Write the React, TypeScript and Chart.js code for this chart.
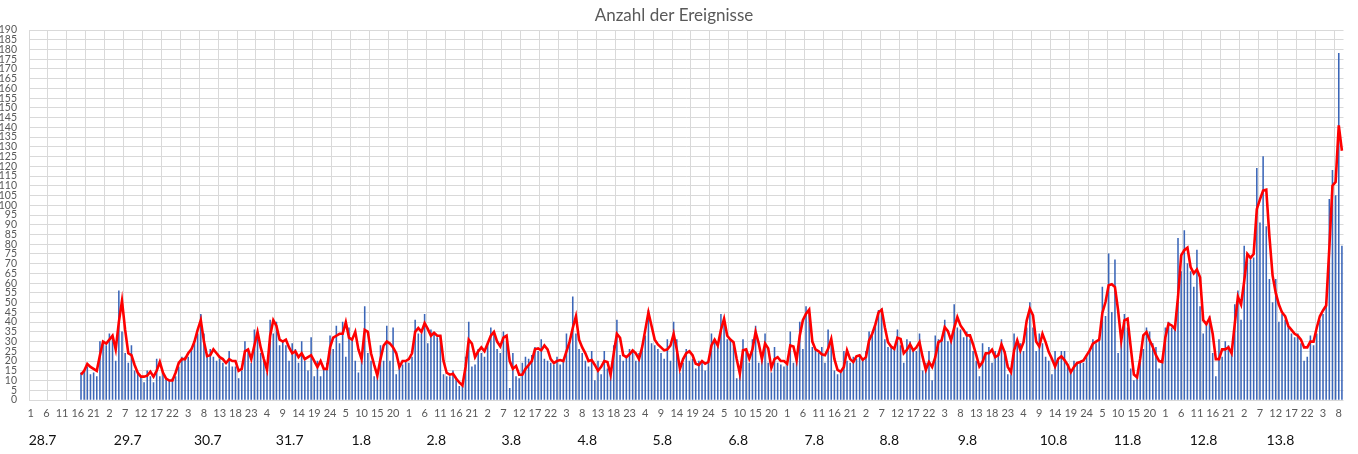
import React, { useEffect, useRef } from "react";
import { Chart, registerables } from "chart.js";

Chart.register(...registerables);

const chartTitle = "Anzahl der Ereignisse";

// day groups of the category axis (the last day, 14.8, is incomplete and not labelled)
const dayLabels = [
  "28.7", "29.7", "30.7", "31.7", "1.8", "2.8", "3.8", "4.8", "5.8",
  "6.8", "7.8", "8.8", "9.8", "10.8", "11.8", "12.8", "13.8", "14.8",
];

// hour inside each day under which the day label sits (as placed in the original)
const dayLabelAnchorHour = [
  3.8, 6.8, 8.2, 10.2, 8.9, 8.7, 8.5, 8.6, 8.4, 8.5, 8.6, 8.4, 9.2, 12.5, 12, 12.1, 12.5,
];

// number of events per hour (one row per day, hours 1..24)
const eventCounts: (number | null)[] = [
  null, null, null, null, null, null, null, null, null, null, null, null, null, null, null, null, 14, 15, 17, 13, 14, 12, 30, 29,
  28, 34, 32, 20, 56, 35, 24, 19, 28, 15, 14, 12, 9, 15, 12, 9, 21, 12, 14, 11, 10, 11, 12, 17,
  22, 22, 22, 26, 29, 34, 44, 34, 22, 26, 22, 20, 21, 19, 17, 25, 17, 17, 11, 15, 30, 26, 19, 36,
  33, 24, 20, 14, 41, 34, 40, 28, 30, 28, 20, 29, 26, 19, 30, 20, 15, 32, 12, 20, 12, 16, 19, 33,
  26, 38, 29, 40, 22, 37, 31, 20, 14, 20, 48, 24, 20, 12, 12, 28, 20, 38, 20, 37, 13, 18, 18, 20,
  19, 22, 41, 34, 34, 44, 29, 36, 34, 32, 33, 13, 12, 12, 15, 11, 7, 7, 22, 40, 17, 18, 26, 24,
  22, 29, 37, 34, 26, 24, 35, 30, 6, 24, 12, 11, 19, 22, 21, 23, 27, 25, 31, 21, 20, 19, 18, 22,
  18, 20, 34, 30, 53, 34, 26, 24, 20, 17, 25, 10, 20, 13, 25, 16, 13, 28, 41, 23, 20, 22, 26, 25,
  20, 24, 28, 33, 46, 29, 28, 26, 24, 21, 31, 20, 40, 31, 14, 19, 26, 20, 21, 16, 20, 19, 15, 20,
  34, 31, 27, 44, 39, 31, 31, 29, 11, 15, 31, 25, 19, 31, 38, 19, 23, 34, 19, 14, 27, 19, 18, 17,
  19, 35, 19, 22, 40, 26, 48, 46, 27, 26, 24, 27, 19, 36, 31, 15, 13, 14, 25, 20, 19, 22, 21, 22,
  20, 25, 35, 34, 39, 46, 47, 31, 27, 27, 26, 36, 28, 19, 31, 30, 26, 25, 34, 15, 19, 25, 10, 33,
  31, 31, 41, 30, 31, 49, 37, 36, 32, 35, 31, 25, 20, 12, 29, 24, 27, 19, 25, 24, 31, 25, 13, 13,
  34, 30, 29, 25, 37, 50, 37, 25, 34, 29, 22, 20, 13, 25, 21, 25, 25, 18, 15, 20, 19, 20, 19, 23,
  26, 31, 29, 31, 58, 43, 75, 45, 72, 24, 33, 44, 37, 16, 10, 12, 21, 26, 37, 35, 29, 27, 16, 21,
  37, 40, 37, 39, 83, 66, 87, 70, 66, 58, 77, 48, 34, 40, 43, 24, 12, 31, 22, 30, 28, 25, 49, 56,
  41, 79, 75, 72, 73, 119, 91, 125, 89, 62, 50, 62, 40, 44, 41, 38, 34, 32, 34, 29, 20, 22, 33, 28,
  34, 41, 44, 48, 103, 118, 105, 178, 79,
];

// smoothed trend (red line), same hours
const trendValues: (number | null)[] = [
  null, null, null, null, null, null, null, null, null, null, null, null, null, null, null, null, 13, 15, 18.5, 17, 16, 15, 23, 30,
  29, 31, 33, 26, 40, 51, 36, 24, 23, 18, 14, 12, 12, 12.5, 14.5, 12, 15, 19.5, 14, 11, 10, 10, 14, 19,
  21, 21, 24, 26, 30, 36, 41, 30, 22.5, 23, 26, 24, 22, 21, 19, 21, 20, 20, 15, 16, 25, 26, 21, 28,
  35, 27, 21, 15.5, 33, 41, 38, 31, 30, 31, 27, 24, 25, 22, 24, 21, 22, 23, 20, 17, 20, 16, 16, 27,
  32, 33, 34, 34, 40, 32, 31, 35, 26, 21, 36, 35, 24, 18, 12.6, 21, 28, 30, 29, 27, 24, 17, 20, 20,
  21, 24, 35, 37, 35, 39.5, 36.5, 33, 34.5, 33, 33, 20, 14, 13, 13.5, 11, 9, 7.5, 17, 31, 29, 22, 25, 27,
  25, 29, 33, 35, 30, 27.5, 32, 33, 20, 16, 17.5, 13, 13, 16, 18, 20, 26, 26.5, 25.5, 28, 26, 21, 19, 20,
  20.5, 20, 25, 30, 37, 43, 31, 27, 24, 20, 20.5, 18, 15, 17, 20, 19.5, 13, 24, 34, 32, 23, 22, 23.5, 25.5,
  24, 21, 27, 36, 45, 38, 31, 28.5, 27, 25.5, 26, 28, 34, 26, 16, 21, 24, 25, 23, 18.6, 18, 20, 18.6, 19.5,
  28, 31, 28, 36, 41.7, 33, 31, 29.7, 21, 13.5, 25.5, 26, 21.2, 26, 35, 29, 21, 29, 26.5, 16.5, 21, 22, 20, 20,
  18.6, 28, 27.5, 20.6, 33, 41, 44.3, 46.4, 30, 26, 25, 23.5, 23, 26.3, 31.4, 21, 15.5, 14.5, 17, 25.5, 21, 19.5, 22.4, 23,
  20.6, 22, 30.6, 34, 38.8, 45, 46.4, 37.4, 29.7, 27.5, 26.3, 32, 31.4, 24, 25.8, 28.5, 25.5, 27, 29.7, 22, 15.5, 19.5, 17, 22,
  29.7, 30.6, 37.4, 35.4, 30.6, 37, 42.6, 38.3, 36, 33.2, 33.2, 28.5, 23, 17.2, 19.5, 24, 24, 25.8, 22, 23, 28.5, 24.6, 17, 14.3,
  25.5, 30.6, 25.5, 29.7, 40.8, 46.9, 43.5, 30, 27.5, 34, 29.7, 24.6, 21.2, 17.2, 21.2, 22.4, 20.5, 18, 14.3, 17, 19, 19.5, 20.3, 22.9,
  25.5, 28.9, 30, 31, 44.7, 50.3, 58.9, 59.4, 58, 46, 30.6, 40.9, 41.7, 27.2, 13.1, 11.7, 21.2, 33.2, 34.9, 30.6, 27.2, 23, 20, 19.5,
  32.3, 39.2, 38.3, 36.6, 52.9, 74.3, 76.9, 78.2, 68.3, 65, 67, 63, 41, 39, 42, 34, 21, 21, 26, 26, 27, 24, 39, 53,
  49, 61, 75, 73, 75, 98, 103, 107.5, 108, 84, 64, 55, 49, 45, 43, 38, 36, 34, 33, 31, 27, 27, 30, 30,
  37, 43, 46, 48.5, 78, 110, 112, 141, 128,
];

const hoursPerDay = 24;
const hourLabels: string[] = dayLabels
  .flatMap(() => Array.from({ length: hoursPerDay }, (_, h) => String(h + 1)))
  .slice(0, eventCounts.length);

const yMax = 190;
const yStep = 5;
const labelEvery = 5;
const gridEvery = 6;

const textGrey = "#595959";
const gridGrey = "#D9D9D9";

const overlayPlugin = {
  id: "overlayText",
  afterDraw(chart: any) {
    const { ctx, chartArea, scales } = chart;
    const xs = scales.x;
    ctx.save();
    ctx.textAlign = "center";
    ctx.textBaseline = "middle";
    ctx.fillStyle = textGrey;
    ctx.font = "17px Lato";
    ctx.fillText(chartTitle, chart.width / 2 - 5, 16);
    ctx.fillStyle = "#111111";
    ctx.font = "14px Lato";
    dayLabels.forEach((lab, d) => {
      if (d >= dayLabelAnchorHour.length) return;
      const px = xs.getPixelForValue(d * hoursPerDay + dayLabelAnchorHour[d]);
      ctx.fillText(lab, px, chartArea.bottom + 40);
    });
    ctx.restore();
  },
};

export default function App() {
  const canvasRef = useRef<HTMLCanvasElement | null>(null);

  useEffect(() => {
    const canvas = canvasRef.current;
    if (!canvas) return;
    const chart = new Chart(canvas, {
      type: "bar",
      data: {
        labels: hourLabels,
        datasets: [
          {
            type: "line",
            label: "Trend",
            data: trendValues,
            borderColor: "#FF0000",
            borderWidth: 2.6,
            pointRadius: 0,
            tension: 0,
            spanGaps: false,
            order: 0,
          } as any,
          {
            type: "bar",
            label: "Anzahl",
            data: eventCounts,
            backgroundColor: "#3B66B8",
            barThickness: 0.9,
            order: 1,
          },
        ],
      },
      options: {
        responsive: false,
        animation: false,
        devicePixelRatio: 1,
        layout: { padding: { top: 30, right: 14.5, left: 0, bottom: 0 } },
        plugins: {
          legend: { display: false },
          title: { display: false },
          tooltip: { enabled: false },
        },
        scales: {
          x: {
            offset: true,
            grid: {
              offset: true,
              drawTicks: false,
              lineWidth: 1,
              color: (ctx: any) =>
                ctx.index !== undefined && ctx.index % gridEvery === 0 ? gridGrey : "rgba(0,0,0,0)",
            },
            border: { display: false },
            ticks: {
              autoSkip: false,
              maxRotation: 0,
              minRotation: 0,
              padding: 7,
              color: textGrey,
              font: { family: "Lato", size: 11 },
              callback: (_v: any, idx: number) => (idx % labelEvery === 0 ? hourLabels[idx] : ""),
            },
            afterFit: (scale: any) => {
              scale.height = 54;
            },
          },
          y: {
            min: 0,
            max: yMax,
            grid: { color: gridGrey, drawTicks: false, lineWidth: 1 },
            border: { display: false },
            ticks: {
              stepSize: yStep,
              padding: 12,
              color: textGrey,
              font: { family: "Lato", size: 10.5 },
              autoSkip: false,
            },
            afterFit: (scale: any) => {
              scale.width = 29;
            },
          },
        },
      },
      plugins: [overlayPlugin],
    });
    return () => chart.destroy();
  }, []);

  return (
    <div style={{ position: "absolute", left: 0, top: 0, width: 1358, height: 454, background: "#ffffff" }}>
      <canvas ref={canvasRef} width={1358} height={454} style={{ display: "block" }} />
    </div>
  );
}
